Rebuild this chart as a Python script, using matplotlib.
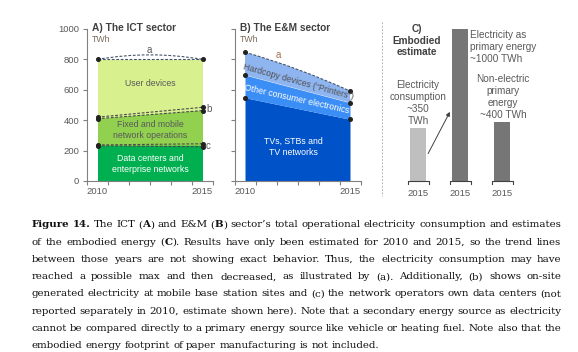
import matplotlib
matplotlib.use('Agg')
import matplotlib.pyplot as plt
import numpy as np
from matplotlib.path import Path
from matplotlib.patches import PathPatch
from matplotlib.lines import Line2D

plt.rcParams['font.family'] = ['Liberation Sans', 'DejaVu Sans']

# ---------------- data ----------------
years = [2010, 2015]
ict_data_centers = [235, 235]
ict_networks = [180, 235]
ict_user_devices = [385, 330]
ict_b_upper = [420, 485]
ict_b_lower = [410, 463]
ict_c_upper = [237, 245]
ict_c_lower = [232, 225]

em_tv = [548, 406]
em_other = [149, 109]
em_hardcopy = [150, 77]

emb_labels = ['2015', '2015', '2015']
emb_values = [350, 1000, 385]

yticks = [0, 200, 400, 600, 800, 1000]

# ---------------- layout helpers ----------------
W, H = 578, 352
fig = plt.figure(figsize=(W / 100, H / 100), dpi=100)


def fx(x):
    return x / W


def fy(y):
    return 1 - y / H


def rect(l, t, r, b):
    return [l / W, 1 - b / H, (r - l) / W, (b - t) / H]


AX_C = '#808080'
LBL_C = '#595959'
TITLE_C = '#404040'
DASH_C = '#4a4a4a'
A_DASH_C = '#44546a'


def style_axis(ax, labels=True):
    ax.set_xlim(2009.5, 2015.5)
    ax.set_ylim(0, 1000)
    for s in ['top', 'right']:
        ax.spines[s].set_visible(False)
    for s in ['left', 'bottom']:
        ax.spines[s].set_color(AX_C)
        ax.spines[s].set_linewidth(0.8)
    ax.set_yticks(yticks)
    ax.tick_params(axis='y', length=3, width=0.8, color=AX_C, labelcolor=LBL_C,
                   labelsize=6.8, pad=2.5, labelleft=labels)
    ax.set_xticks(years)
    ax.set_xticklabels([str(y) for y in years])
    ax.tick_params(axis='x', which='major', length=0, labelcolor=LBL_C, labelsize=6.8, pad=4)
    ax.set_xticks(np.arange(2009.5, 2016, 1.0), minor=True)
    ax.tick_params(axis='x', which='minor', length=3, width=0.8, color=AX_C)
    ax.set_facecolor('none')


def arc_path(p0, p1, bow):
    mx, my = (p0[0] + p1[0]) / 2, (p0[1] + p1[1]) / 2 + bow
    return [p0, (mx, my), p1], [Path.MOVETO, Path.CURVE3, Path.CURVE3]


def arc(ax, p0, p1, bow, color):
    v, c = arc_path(p0, p1, bow)
    ax.add_patch(PathPatch(Path(v, c), fill=False, ec=color, lw=0.8, ls=(0, (2.5, 1.5))))


# ---------------- Panel A ----------------
axA = fig.add_axes(rect(87, 29, 213, 181))
style_axis(axA, True)
dc = np.array(ict_data_centers)
nw = dc + np.array(ict_networks)
tot = nw + np.array(ict_user_devices)
axA.fill_between(years, 0, dc, color='#00b050', lw=0)
axA.fill_between(years, dc, nw, color='#92d050', lw=0)
axA.fill_between(years, nw, tot, color='#d8f08e', lw=0)

dash = (0, (2.5, 1.5))
axA.plot(years, tot, color=A_DASH_C, lw=0.8, ls=dash)
arc(axA, (years[0], tot[0]), (years[1], tot[1]), 60, A_DASH_C)
for series in [ict_b_upper, ict_b_lower, ict_c_upper, ict_c_lower]:
    axA.plot(years, series, color=DASH_C, lw=0.8, ls=dash)
for series in [tot, ict_b_upper, ict_b_lower, ict_c_upper, ict_c_lower]:
    axA.plot(years, series, ls='none', marker='o', ms=2.6, color='#222222', clip_on=False)

# ---------------- Panel B ----------------
axB = fig.add_axes(rect(234.5, 29, 360.5, 181))
style_axis(axB, False)
tv = np.array(em_tv)
oc = tv + np.array(em_other)
hc = oc + np.array(em_hardcopy)
axB.fill_between(years, 0, tv, color='#0052c8', lw=0)
axB.fill_between(years, tv, oc, color='#3a8ef5', lw=0)
# top layer bounded above by the bowed trend line (a)
v, c = arc_path((years[0], hc[0]), (years[1], hc[1]), 30)
v = v + [(years[1], oc[1]), (years[0], oc[0]), (years[0], hc[0])]
c = c + [Path.LINETO, Path.LINETO, Path.CLOSEPOLY]
axB.add_patch(PathPatch(Path(v, c), fc='#8fb5f0', lw=0))
arc(axB, (years[0], hc[0]), (years[1], hc[1]), 30, A_DASH_C)
for series in [tv, oc, hc]:
    axB.plot(years, series, ls='none', marker='o', ms=2.6, color='#222222', clip_on=False)

# ---------------- Panel C ----------------
axC = fig.add_axes(rect(397, 29, 523, 181))
axC.set_xlim(-0.5, 2.5)
axC.set_ylim(0, 1000)
for s in axC.spines.values():
    s.set_visible(False)
axC.set_yticks([])
xs = np.arange(len(emb_values))
axC.bar(xs, emb_values, width=0.36, color=['#bfbfbf', '#767676', '#767676'])
axC.set_xticks(xs)
axC.set_xticklabels(emb_labels)
axC.tick_params(axis='x', length=0, labelcolor=LBL_C, labelsize=6.8, pad=5.5)
axC.set_facecolor('none')
for i in xs:
    axC.plot([i - 0.25, i - 0.25, i + 0.25, i + 0.25], [-22, 0, 0, -22],
             color='#404040', lw=0.8, clip_on=False)
axC.annotate('', xy=(0.76, 455), xytext=(0.24, 180),
             arrowprops=dict(arrowstyle='-|>', color='#404040', lw=0.7, mutation_scale=6,
                             shrinkA=0, shrinkB=0))

fig.add_artist(Line2D([fx(382), fx(382)], [fy(22), fy(196)], ls=(0, (2, 2)),
                      color='#a0a0a0', lw=0.6))

# ---------------- labels ----------------
def T(x, y, s, **kw):
    d = dict(ha='center', va='center', fontsize=6.3, color=LBL_C)
    d.update(kw)
    fig.text(fx(x), fy(y), s, **d)


T(92, 28, 'A) The ICT sector', ha='left', fontsize=7.3, weight='bold', color=TITLE_C)
T(92, 40, 'TWh', ha='left', fontsize=6.3, color='#7a6a5a')
T(149, 50, 'a', fontsize=7)
T(150, 83, 'User devices')
T(150, 130, 'Fixed and mobile\nnetwork operations', linespacing=1.25)
T(150, 164, 'Data centers and\nenterprise networks', color='white', linespacing=1.25)
T(206, 109, 'b', ha='left', fontsize=7)
T(206, 146, 'c', ha='left', fontsize=7)

T(240, 28, 'B) The E&M sector', ha='left', fontsize=7.3, weight='bold', color=TITLE_C)
T(240, 40, 'TWh', ha='left', fontsize=6.3, color='#7a6a5a')
T(278, 55, 'a', fontsize=7, color='#a07050')
T(298, 82, 'Hardcopy devices (“Printers”)', rotation=-15.5, rotation_mode='anchor', color='#505050')
T(297, 99, 'Other consumer electronics', rotation=-12.6, rotation_mode='anchor', color='white')
T(293, 146.5, 'TVs, STBs and\nTV networks', color='white', linespacing=1.3)

T(417, 40.5, 'C)\nEmbodied\nestimate', fontsize=7.2, weight='bold', color=TITLE_C, linespacing=1.22)
T(418, 103.5, 'Electricity\nconsumption\n~350\nTWh', fontsize=7.2, linespacing=1.25)
T(470, 46.5, 'Electricity as\nprimary energy\n~1000 TWh', ha='left', fontsize=7.2, linespacing=1.25)
T(503, 97.5, 'Non-electric\nprimary\nenergy\n~400 TWh', fontsize=7.2, linespacing=1.25)

# ---------------- caption (justified) ----------------
caption_lines = [
    '**Figure** **14.** The ICT (**A**) and E&M (**B**) sector’s total operational electricity consumption and estimates',
    'of the embodied energy (**C**). Results have only been estimated for 2010 and 2015, so the trend lines',
    'between those years are not showing exact behavior. Thus, the electricity consumption may have',
    'reached a possible max and then decreased, as illustrated by (a). Additionally, (b) shows on-site',
    'generated electricity at mobile base station sites and (c) the network operators own data centers (not',
    'reported separately in 2010, estimate shown here). Note that a secondary energy source as electricity',
    'cannot be compared directly to a primary energy source like vehicle or heating fuel. Note also that the',
    'embodied energy footprint of paper manufacturing is not included.',
]
CAP_L, CAP_R = 31.5, 561.5
CAP_Y0, CAP_DY = 227.3, 17.3
cap_family = ['DejaVu Serif']
renderer = fig.canvas.get_renderer()

lines_words = []
for line in caption_lines:
    words = []
    for word in line.split(' '):
        parts = word.split('**')
        words.append([(p, i % 2 == 1) for i, p in enumerate(parts) if p])
    lines_words.append(words)


def seg_width(s, bold, fs):
    t = fig.text(0, 0, s, fontsize=fs, family=cap_family, weight='bold' if bold else 'normal')
    w = t.get_window_extent(renderer).width
    t.remove()
    return w


def space_width(fs):
    return seg_width('a a', False, fs) - seg_width('aa', False, fs)


cap_fs = 8.0
for _ in range(4):
    sp = space_width(cap_fs) * 0.9
    maxw = 0
    for words in lines_words:
        tw = sum(seg_width(s, b, cap_fs) for w in words for s, b in w)
        maxw = max(maxw, tw + sp * (len(words) - 1))
    cap_fs *= (CAP_R - CAP_L) / maxw * 0.998

space_nat = space_width(cap_fs)
for li, words in enumerate(lines_words):
    widths = [[seg_width(s, b, cap_fs) for s, b in w] for w in words]
    total = sum(sum(ws) for ws in widths)
    if li < len(lines_words) - 1 and len(words) > 1:
        gap = (CAP_R - CAP_L - total) / (len(words) - 1)
    else:
        gap = space_nat
    x = CAP_L
    y = CAP_Y0 + li * CAP_DY
    for w, ws in zip(words, widths):
        for (s, b), sw in zip(w, ws):
            fig.text(fx(x), fy(y), s, fontsize=cap_fs, family=cap_family,
                     weight='bold' if b else 'normal', ha='left', va='baseline', color='#111111')
            x += sw
        x += gap

fig.savefig('out.png', dpi=100)
